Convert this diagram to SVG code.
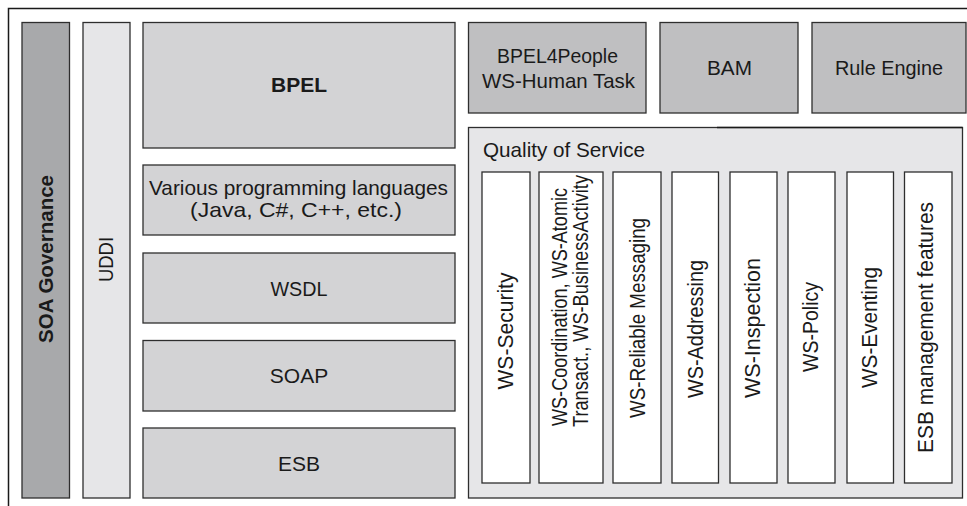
<svg xmlns="http://www.w3.org/2000/svg" width="967" height="506" viewBox="0 0 967 506">
  <style>
    .box { stroke: #2e2e2e; stroke-width: 1.3; }
    .gov { fill: #a8a9ab; }
    .reg { fill: #e6e6e8; }
    .stack { fill: #d3d3d5; }
    .tool { fill: #bfbfc1; }
    .qos { fill: #e6e6e8; }
    .spec { fill: #ffffff; }
    text { font-family: "Liberation Sans", Arial, Helvetica, sans-serif; font-size: 21px; fill: #1a1a1a; }
    .v { font-size: 22px; }
    .c { text-anchor: middle; }
    .b { font-weight: bold; }
  </style>

  <rect x="0" y="0" width="967" height="506" fill="#ffffff"/>

  <!-- outer frame -->
  <g id="frame" fill="none" stroke="#1a1a1a" stroke-width="1.5">
    <path d="M8.5 506 V8.5 H967"/>
  </g>

  <!-- left vertical bars -->
  <g id="soa-governance">
    <rect class="box gov" x="22" y="22.5" width="47.5" height="475.5"/>
    <text class="c b" transform="translate(53,259) rotate(-90)" textLength="168" lengthAdjust="spacingAndGlyphs">SOA Governance</text>
  </g>
  <g id="uddi">
    <rect class="box reg" x="83" y="22.5" width="47" height="475.5"/>
    <text class="c" transform="translate(113,259.5) rotate(-90)" font-size="20" textLength="45" lengthAdjust="spacingAndGlyphs">UDDI</text>
  </g>

  <!-- protocol stack -->
  <g id="bpel">
    <rect class="box stack" x="143" y="22.5" width="312" height="125.5"/>
    <text class="c b" x="299" y="92" font-size="19">BPEL</text>
  </g>
  <g id="languages">
    <rect class="box stack" x="143" y="165" width="312" height="70"/>
    <text class="c" x="298.5" y="195" textLength="299" lengthAdjust="spacingAndGlyphs">Various programming languages</text>
    <text class="c" x="296" y="217" textLength="212" lengthAdjust="spacingAndGlyphs">(Java, C#, C++, etc.)</text>
  </g>
  <g id="wsdl">
    <rect class="box stack" x="143" y="253" width="312" height="70"/>
    <text class="c" x="299" y="296" textLength="57" lengthAdjust="spacingAndGlyphs">WSDL</text>
  </g>
  <g id="soap">
    <rect class="box stack" x="143" y="340.5" width="312" height="70.5"/>
    <text class="c" x="299" y="383">SOAP</text>
  </g>
  <g id="esb">
    <rect class="box stack" x="143" y="428" width="312" height="70"/>
    <text class="c" x="299" y="471">ESB</text>
  </g>

  <!-- top row tools -->
  <g id="bpel4people">
    <rect class="box tool" x="468.5" y="22.5" width="177.5" height="90.5"/>
    <text class="c" x="557.5" y="63" textLength="121" lengthAdjust="spacingAndGlyphs">BPEL4People</text>
    <text class="c" x="558.5" y="88" textLength="153" lengthAdjust="spacingAndGlyphs">WS-Human Task</text>
  </g>
  <g id="bam">
    <rect class="box tool" x="660" y="22.5" width="138" height="90.5"/>
    <text class="c" x="729.5" y="75" textLength="45" lengthAdjust="spacingAndGlyphs">BAM</text>
  </g>
  <g id="rule-engine">
    <rect class="box tool" x="812" y="22.5" width="154" height="90.5"/>
    <text class="c" x="889" y="75" textLength="108" lengthAdjust="spacingAndGlyphs">Rule Engine</text>
  </g>

  <!-- quality of service container -->
  <g id="quality-of-service">
    <rect class="box qos" x="468.5" y="127.5" width="494" height="370.5"/>
    <path d="M717 127.5 H962.5" stroke="#1a1a1a" stroke-width="1.6" fill="none"/>
    <text x="483" y="157" textLength="162" lengthAdjust="spacingAndGlyphs">Quality of Service</text>
  </g>

  <g id="ws-security">
    <rect class="box spec" x="482" y="172" width="48" height="311"/>
    <text class="c v" transform="translate(513,331) rotate(-90)" textLength="117" lengthAdjust="spacingAndGlyphs">WS-Security</text>
  </g>
  <g id="ws-coordination">
    <rect class="box spec" x="539" y="172" width="64" height="311"/>
    <text class="c v" transform="translate(567,307) rotate(-90)" textLength="238" lengthAdjust="spacingAndGlyphs">WS-Coordination, WS-Atomic</text>
    <text class="c v" transform="translate(588,301) rotate(-90)" textLength="252" lengthAdjust="spacingAndGlyphs">Transact., WS-BusinessActivity</text>
  </g>
  <g id="ws-reliable-messaging">
    <rect class="box spec" x="613" y="172" width="48" height="311"/>
    <text class="c v" transform="translate(645,318) rotate(-90)" textLength="200" lengthAdjust="spacingAndGlyphs">WS-Reliable Messaging</text>
  </g>
  <g id="ws-addressing">
    <rect class="box spec" x="672" y="172" width="46.5" height="311"/>
    <text class="c v" transform="translate(703,329) rotate(-90)" textLength="138" lengthAdjust="spacingAndGlyphs">WS-Addressing</text>
  </g>
  <g id="ws-inspection">
    <rect class="box spec" x="730" y="172" width="47" height="311"/>
    <text class="c v" transform="translate(760,328) rotate(-90)" textLength="140" lengthAdjust="spacingAndGlyphs">WS-Inspection</text>
  </g>
  <g id="ws-policy">
    <rect class="box spec" x="788" y="172" width="47" height="311"/>
    <text class="c v" transform="translate(818,327) rotate(-90)" textLength="90" lengthAdjust="spacingAndGlyphs">WS-Policy</text>
  </g>
  <g id="ws-eventing">
    <rect class="box spec" x="847" y="172" width="46.5" height="311"/>
    <text class="c v" transform="translate(877,327.5) rotate(-90)" textLength="121" lengthAdjust="spacingAndGlyphs">WS-Eventing</text>
  </g>
  <g id="esb-management">
    <rect class="box spec" x="904.5" y="172" width="47.5" height="311"/>
    <text class="c v" transform="translate(933,327.5) rotate(-90)" textLength="251" lengthAdjust="spacingAndGlyphs">ESB management features</text>
  </g>

  <!-- layered diagram: no connectors between the blocks -->
  <g id="connectors"/>
</svg>
